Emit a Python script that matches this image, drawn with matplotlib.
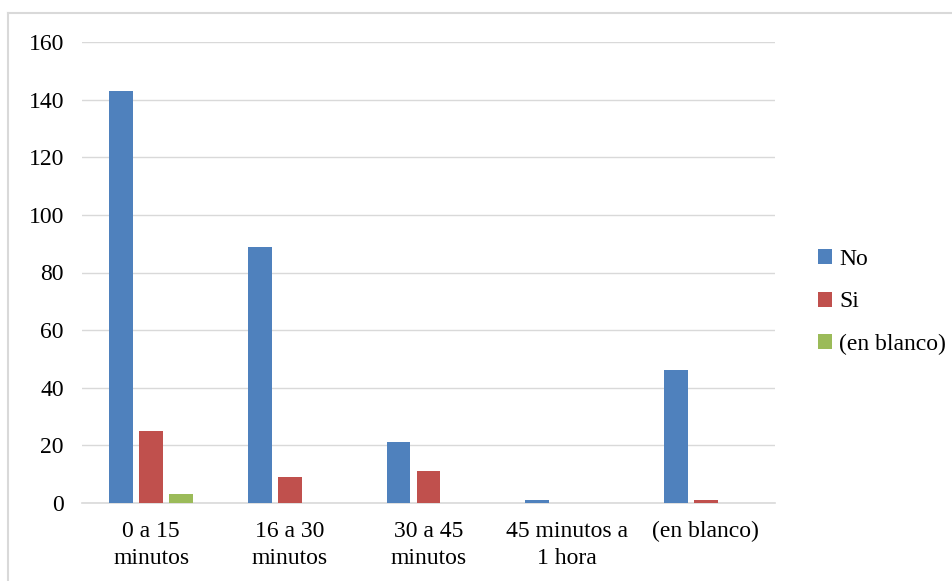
import matplotlib.pyplot as plt
import numpy as np
from matplotlib.lines import Line2D
from matplotlib.patches import Patch

plt.rcParams["font.family"] = ["Liberation Serif", "DejaVu Serif"]

categories = ["0 a 15\nminutos", "16 a 30\nminutos", "30 a 45\nminutos",
              "45 minutos a\n1 hora", "(en blanco)"]
no_vals = [143, 89, 21, 1, 46]
si_vals = [25, 9, 11, 0, 1]
blanco_vals = [3, 0, 0, 0, 0]

series = [("No", no_vals, "#4f81bd"),
          ("Si", si_vals, "#c0504d"),
          ("(en blanco)", blanco_vals, "#9bbb59")]

fig = plt.figure(figsize=(9.52, 5.81), dpi=100)
ax = fig.add_axes([82 / 952, 1 - 503 / 581, (775 - 82) / 952, (503 - 42) / 581])

x = np.arange(len(categories))
width = 0.173
step = 0.2165
for i, (name, vals, color) in enumerate(series):
    ax.bar(x + (i - 1) * step, vals, width, color=color, label=name, zorder=3)

ax.set_xlim(-0.5, len(categories) - 0.5)
ax.set_ylim(0, 160)
ax.set_yticks(range(0, 161, 20))
ax.yaxis.grid(True, color="#d9d9d9", linewidth=1.0, zorder=0)
ax.set_axisbelow(True)
for side in ["top", "right", "left"]:
    ax.spines[side].set_visible(False)
ax.spines["bottom"].set_color("#d9d9d9")
ax.spines["bottom"].set_linewidth(1.2)
ax.tick_params(axis="both", length=0, labelsize=17)
ax.tick_params(axis="y", pad=13)
ax.tick_params(axis="x", pad=13)
ax.set_xticks(x)
ax.set_xticklabels(categories, linespacing=1.4)

handles = [Patch(facecolor=c, label=n) for n, _, c in series]
fig.legend(handles=handles, loc="center left", bbox_to_anchor=(806 / 952, 1 - 302 / 581),
           frameon=False, fontsize=17, handlelength=0.6, handleheight=0.6,
           handletextpad=0.3, labelspacing=0.9, borderpad=0)

# outer chart frame (top and left edges)
fig.add_artist(Line2D([8 / 952, 8 / 952], [0, 1 - 13 / 581], color="#d9d9d9",
                      linewidth=1.5, transform=fig.transFigure))
fig.add_artist(Line2D([8 / 952, 1], [1 - 13 / 581, 1 - 13 / 581], color="#d9d9d9",
                      linewidth=1.5, transform=fig.transFigure))

fig.savefig("out.png", dpi=100)
